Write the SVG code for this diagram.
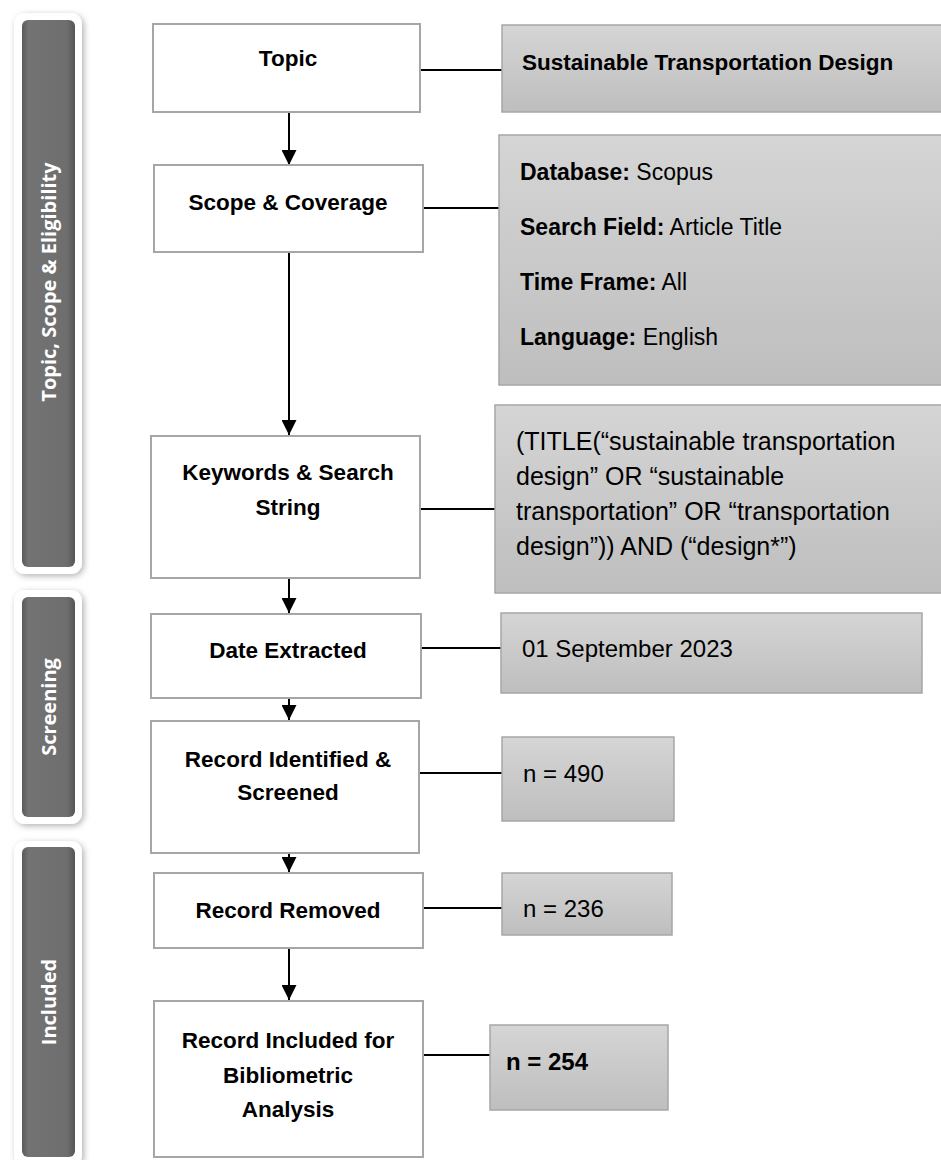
<svg xmlns="http://www.w3.org/2000/svg" width="941" height="1160" viewBox="0 0 941 1160">
<defs>
<linearGradient id="gbox" x1="0" y1="0" x2="0" y2="1">
<stop offset="0" stop-color="#d5d5d5"/><stop offset="1" stop-color="#bebebe"/>
</linearGradient>
<linearGradient id="gbar" x1="0" y1="0" x2="1" y2="0">
<stop offset="0" stop-color="#5a5a5a"/><stop offset="0.12" stop-color="#737373"/><stop offset="0.85" stop-color="#6e6e6e"/><stop offset="1" stop-color="#555555"/>
</linearGradient>
<filter id="sh" x="-30%" y="-10%" width="160%" height="120%">
<feDropShadow dx="2" dy="2" stdDeviation="3" flood-color="#000" flood-opacity="0.3"/>
</filter>
<marker id="ah" viewBox="0 0 10 10" refX="10" refY="5" markerWidth="15" markerHeight="15" markerUnits="userSpaceOnUse" orient="auto">
<path d="M0,0 L10,5 L0,10 z" fill="#000"/>
</marker>
<style>
.wb{fill:#fff;stroke:#a6a6a6;stroke-width:2}
.gb{fill:url(#gbox);stroke:#a6a6a6;stroke-width:1.5}
.outer{fill:#fff;filter:url(#sh)}
.bar{fill:url(#gbar)}
.bt{font-family:"Liberation Sans",Arial,sans-serif;font-weight:bold;font-size:22.5px;fill:#000;text-anchor:middle}
.rt{font-family:"Liberation Sans",Arial,sans-serif;font-size:24px;fill:#000}
.mt{font-family:"Liberation Sans",Arial,sans-serif;font-size:23px;fill:#000}
.b{font-weight:bold}
.side{font-family:"Open Sans","Noto Sans",sans-serif;font-weight:bold;font-size:20px;fill:#fff;text-anchor:middle}
.ln{stroke:#000;stroke-width:2;fill:none}
</style>
</defs>

<g id="bar-topic">
<rect class="outer" x="14" y="13" width="68" height="561" rx="11"/>
<rect class="bar" x="22" y="20" width="53" height="547" rx="6"/>
<text class="side" transform="translate(56,282) rotate(-90)">Topic, Scope &amp; Eligibility</text>
</g>
<g id="bar-screening">
<rect class="outer" x="14" y="590" width="68" height="234" rx="11"/>
<rect class="bar" x="22" y="597" width="53" height="220" rx="6"/>
<text class="side" transform="translate(56,707) rotate(-90)">Screening</text>
</g>
<g id="bar-included">
<rect class="outer" x="14" y="841" width="68" height="325" rx="11"/>
<rect class="bar" x="22" y="847" width="53" height="310" rx="6"/>
<text class="side" transform="translate(56,1002) rotate(-90)">Included</text>
</g>

<g id="connectors">
<line class="ln" x1="289" y1="112" x2="289" y2="165" marker-end="url(#ah)"/>
<line class="ln" x1="289" y1="252" x2="289" y2="435" marker-end="url(#ah)"/>
<line class="ln" x1="289" y1="578" x2="289" y2="613" marker-end="url(#ah)"/>
<line class="ln" x1="289" y1="698" x2="289" y2="720" marker-end="url(#ah)"/>
<line class="ln" x1="289" y1="853" x2="289" y2="872" marker-end="url(#ah)"/>
<line class="ln" x1="289" y1="948" x2="289" y2="1000" marker-end="url(#ah)"/>
<line class="ln" x1="420" y1="70" x2="502" y2="70"/>
<line class="ln" x1="423" y1="208" x2="499" y2="208"/>
<line class="ln" x1="420" y1="509" x2="495" y2="509"/>
<line class="ln" x1="407" y1="648" x2="501" y2="648"/>
<line class="ln" x1="408" y1="773" x2="502" y2="773"/>
<line class="ln" x1="407" y1="908" x2="502" y2="908"/>
<line class="ln" x1="407" y1="1055" x2="490" y2="1055"/>
</g>

<g id="topic">
<rect class="wb" x="153" y="24" width="267" height="88"/>
<text class="bt" x="288" y="66">Topic</text>
</g>
<g id="scope">
<rect class="wb" x="154" y="165" width="269" height="87"/>
<text class="bt" x="288" y="210">Scope &amp; Coverage</text>
</g>
<g id="keywords">
<rect class="wb" x="151" y="436" width="269" height="142"/>
<text class="bt" x="288" y="480">Keywords &amp; Search</text>
<text class="bt" x="288" y="515">String</text>
</g>
<g id="date">
<rect class="wb" x="151" y="614" width="270" height="84"/>
<text class="bt" x="288" y="658">Date Extracted</text>
</g>
<g id="identified">
<rect class="wb" x="151" y="721" width="268" height="132"/>
<text class="bt" x="288" y="767">Record Identified &amp;</text>
<text class="bt" x="288" y="800">Screened</text>
</g>
<g id="removed">
<rect class="wb" x="154" y="873" width="269" height="75"/>
<text class="bt" x="288" y="918">Record Removed</text>
</g>
<g id="included">
<rect class="wb" x="154" y="1001" width="269" height="156"/>
<text class="bt" x="288" y="1048">Record Included for</text>
<text class="bt" x="288" y="1083">Bibliometric</text>
<text class="bt" x="288" y="1117">Analysis</text>
</g>

<g id="sustainable">
<rect class="gb" x="502" y="25" width="445" height="87"/>
<text class="rt b" x="522" y="70" style="font-size:22.5px">Sustainable Transportation Design</text>
</g>
<g id="database">
<rect class="gb" x="499" y="135" width="448" height="250"/>
<text class="mt" x="520" y="180"><tspan class="b">Database:</tspan> Scopus</text>
<text class="mt" x="520" y="235"><tspan class="b">Search Field:</tspan> Article Title</text>
<text class="mt" x="520" y="290"><tspan class="b">Time Frame:</tspan> All</text>
<text class="mt" x="520" y="345"><tspan class="b">Language:</tspan> English</text>
</g>
<g id="search-string">
<rect class="gb" x="495" y="405" width="452" height="188"/>
<text class="rt" x="516" y="450" style="font-size:25px">(TITLE(“sustainable transportation</text>
<text class="rt" x="516" y="485" style="font-size:25px">design” OR “sustainable</text>
<text class="rt" x="516" y="520" style="font-size:25px">transportation” OR “transportation</text>
<text class="rt" x="516" y="555" style="font-size:25px">design”)) AND (“design*”)</text>
</g>
<g id="date-value">
<rect class="gb" x="501" y="613" width="421" height="80"/>
<text class="rt" x="522" y="657">01 September 2023</text>
</g>
<g id="n490">
<rect class="gb" x="502" y="737" width="172" height="84"/>
<text class="rt" x="523" y="782">n = 490</text>
</g>
<g id="n236">
<rect class="gb" x="502" y="873" width="170" height="62"/>
<text class="rt" x="523" y="917">n = 236</text>
</g>
<g id="n254">
<rect class="gb" x="490" y="1025" width="178" height="85"/>
<text class="rt b" x="506" y="1070">n = 254</text>
</g>
</svg>
